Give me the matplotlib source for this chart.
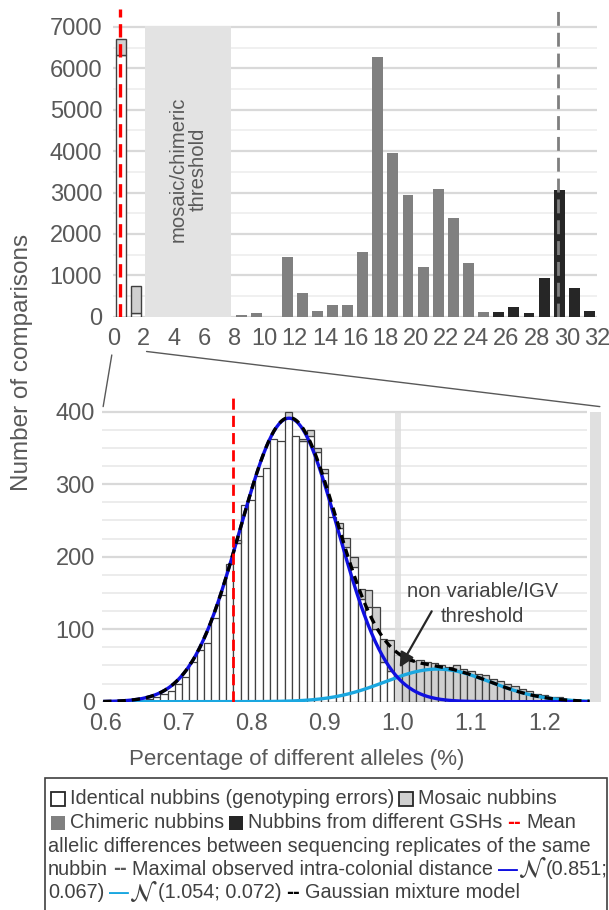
import numpy as np
import matplotlib
matplotlib.use('Agg')
import matplotlib.pyplot as plt
from matplotlib.patches import Rectangle, ConnectionPatch, FancyArrowPatch

plt.rcParams['font.family'] = ['Liberation Sans', 'DejaVu Sans']
plt.rcParams['mathtext.fontset'] = 'stix'

# ---------------- data: top histogram (1% bins) ----------------
top_bins = list(range(32))
top_identical = [6310, 80] + [0] * 30
top_mosaic = [400, 660] + [0] * 30
top_chimeric = [0, 0, 0, 0, 0, 0, 0, 0, 40, 96, 0, 1447, 563, 145, 273, 273,
                1560, 6270, 3947, 2950, 1206, 3095, 2379, 1302, 113, 0, 0, 0, 0, 0, 0, 0]
top_gsh = [0] * 25 + [113, 241, 96, 940, 3063, 683, 145]
top_xticks = list(range(0, 33, 2))
top_yticks = list(range(0, 7001, 1000))

# ---------------- data: bottom histogram (0.01% bins) ----------------
bot_centers = [round(0.60 + 0.01 * k, 2) for k in range(66)]
bot_identical = [0, 0, 0, 0, 1, 2, 4, 7, 11, 15, 25, 34, 55, 71, 81, 115, 147, 190,
                 219, 271, 278, 311, 322, 363, 359, 391, 367, 360, 367, 344, 315, 255,
                 240, 214, 186, 142, 130, 100, 55, 42] + [0] * 26
bot_mosaic = [0] * 18 + [4, 0, 0, 0, 0, 0, 0, 8, 0, 3, 8, 6, 6, 0, 7, 12, 13, 14, 24,
                         31, 32, 43] + \
             [64, 62, 56, 58, 55, 53, 50, 48, 50, 45, 42, 38, 37, 31, 28, 24, 21, 18,
              15, 11, 9, 7, 6, 4, 3, 2]
bot_xticks = [0.6, 0.7, 0.8, 0.9, 1.0, 1.1, 1.2]
bot_yticks = [0, 100, 200, 300, 400]

g1_mu, g1_sd, g1_peak = 0.851, 0.067, 391
g2_mu, g2_sd, g2_peak = 1.054, 0.072, 45

mean_rep_bottom = 0.774
mean_rep_top = 0.46
max_intra_top = 29.4
igv_threshold = 1.0
mosaic_chimeric = (2.1, 7.8)

TXT = '#595959'
DARK = '#404040'

fig = plt.figure(figsize=(6.09, 9.10), dpi=100)
W, H = 609.0, 910.0

def ax_rect(l, r, t, b):
    return [l / W, 1 - b / H, (r - l) / W, (b - t) / H]

def nz_bar(ax, x, h, bottom=None, **kw):
    x = np.asarray(x, float)
    h = np.asarray(h, float)
    b = np.zeros_like(h) if bottom is None else np.asarray(bottom, float)
    m = h > 0
    ax.bar(x[m], h[m], bottom=b[m], **kw)

# ---------------- top axes ----------------
ax1 = fig.add_axes(ax_rect(113.3, 597.0, 9.1, 316.7))
ax1.set_xlim(0, 32)
ax1.set_ylim(0, 7430)
for s in ax1.spines.values():
    s.set_visible(False)
ax1.hlines(top_yticks, 0, 32, color='#d9d9d9', lw=1.6, zorder=0)
ax1.hlines([v + 500 for v in top_yticks[:-1]], 0, 32, color='#f0f0f0', lw=1.4, zorder=0)
ax1.add_patch(Rectangle((mosaic_chimeric[0], -60), mosaic_chimeric[1] - mosaic_chimeric[0], 7090,
                        facecolor='#e3e3e3', edgecolor='none', zorder=0.5))
x_top = np.array(top_bins) + 0.5
bw = 0.68
nz_bar(ax1, x_top, top_identical, width=bw, color='white', edgecolor=DARK, lw=1, zorder=2)
nz_bar(ax1, x_top, top_mosaic, bottom=top_identical, width=bw, color='#d0d0d0', edgecolor=DARK, lw=1, zorder=2)
nz_bar(ax1, x_top, top_chimeric, width=0.72, color='#808080', edgecolor='none', zorder=2)
nz_bar(ax1, x_top, top_gsh, width=0.72, color='#262626', edgecolor='none', zorder=2)
ax1.axvline(mean_rep_top, color='#ff0000', lw=2.4, dashes=(4, 2), zorder=5)
ax1.axvline(max_intra_top, color='#7f7f7f', lw=2.0, dashes=(5, 2.5), zorder=5)
ax1.set_xticks(top_xticks)
ax1.set_xticklabels([str(v) for v in top_xticks])
ax1.set_yticks(top_yticks)
ax1.tick_params(axis='both', length=0, labelsize=17, colors=TXT)
ax1.tick_params(axis='x', pad=8)
ax1.tick_params(axis='y', pad=8)
ax1.text(4.97, 3567, 'mosaic/chimeric\nthreshold', rotation=90, ha='center', va='center',
         fontsize=14.6, color=TXT, linespacing=1.05, zorder=3)

# ---------------- bottom axes ----------------
ax2 = fig.add_axes(ax_rect(101.7, 601.3, 395.0, 701.7))
ax2.set_xlim(0.595, 1.278)
ax2.set_ylim(0, 423)
for s in ax2.spines.values():
    s.set_visible(False)
grid_end = 1.2586
ax2.hlines(bot_yticks, 0.595, grid_end, color='#d9d9d9', lw=1.6, zorder=0)
minor = [v for v in range(25, 400, 25) if v % 100 != 0]
ax2.hlines(minor, 0.595, grid_end, color='#ececec', lw=1.4, zorder=0)
nz_bar(ax2, bot_centers, bot_identical, width=0.01, color='white', edgecolor=DARK, lw=0.9, zorder=2)
nz_bar(ax2, bot_centers, bot_mosaic, bottom=bot_identical, width=0.01, color='#d0d0d0',
       edgecolor=DARK, lw=0.9, zorder=2)
ax2.add_patch(Rectangle((igv_threshold - 0.0045, 0), 0.009, 400, facecolor='#dcdcdc',
                        edgecolor='none', alpha=0.8, zorder=3))
ax2.add_patch(Rectangle((1.262, 0), 0.016, 400, facecolor='#e0e0e0', edgecolor='none', zorder=3))

xs = np.linspace(0.597, 1.262, 400)
c1 = g1_peak * np.exp(-0.5 * ((xs - g1_mu) / g1_sd) ** 2)
c2 = g2_peak * np.exp(-0.5 * ((xs - g2_mu) / g2_sd) ** 2)
ax2.plot(xs, c2, color='#1aa7e0', lw=2.4, zorder=4, solid_capstyle='butt')
ax2.plot(xs, c1, color='#1010e0', lw=2.4, zorder=4, solid_capstyle='butt')
ax2.plot(xs, c1 + c2, color='black', lw=2.4, dashes=(2.5, 1.8), zorder=4.5)
ax2.axvline(mean_rep_bottom, ymax=1.0, color='#ff0000', lw=2.0, dashes=(4, 2.2), zorder=5)

ax2.set_xticks(bot_xticks)
ax2.set_xticklabels(['%.1f' % v for v in bot_xticks])
ax2.set_yticks(bot_yticks)
ax2.tick_params(axis='both', length=0, labelsize=17, colors=TXT)
ax2.tick_params(axis='x', pad=8)
ax2.tick_params(axis='y', pad=5)

ax2.text(1.116, 151.7, 'non variable/IGV', ha='center', va='center', fontsize=14.6, color=DARK, zorder=6)
ax2.text(1.116, 117, 'threshold', ha='center', va='center', fontsize=14.6, color=DARK, zorder=6)
ax2.add_patch(FancyArrowPatch((1.048, 128), (1.0005, 44), arrowstyle='-|>', mutation_scale=22,
                              color='#262626', lw=1.6, zorder=6))

# zoom connector lines
for (xa, ya), (xb, yb) in [((-0.1, -925), (0.597, 407)), ((2.2, -840), (1.276, 407))]:
    cp = ConnectionPatch(xyA=(xa, ya), coordsA=ax1.transData, xyB=(xb, yb), coordsB=ax2.transData,
                         color='#595959', lw=1.0)
    fig.add_artist(cp)

# axis titles
fig.text(22 / W, 1 - 362 / H, 'Number of comparisons', rotation=90, ha='center', va='center',
         fontsize=17.5, color=TXT)
fig.text(297 / W, 1 - 760 / H, 'Percentage of different alleles (%)', ha='center', va='center',
         fontsize=16, color=TXT)

# ---------------- legend box ----------------
fig.add_artist(Rectangle((45 / W, 1 - 915 / H), 562 / W, 137 / H, transform=fig.transFigure,
                         facecolor='none', edgecolor=DARK, lw=1.2))
renderer = fig.canvas.get_renderer()
LFS = 14.3
SP = 5.0

def legend_line(items, y_px, x_px):
    x = x_px
    for it in items:
        kind = it[0]
        if kind == 'box':
            fc, ec = it[1], it[2]
            sz = 14
            fig.add_artist(Rectangle((x / W, 1 - (y_px + sz / 2) / H), sz / W, sz / H,
                                     transform=fig.transFigure, facecolor=fc,
                                     edgecolor=ec, lw=1.3 if ec != 'none' else 0))
            x += sz + SP
        else:
            s, col = it[1], it[2]
            kw = dict(fontsize=LFS, color=col)
            if kind == 'dash':
                kw['fontweight'] = 'bold'
                kw['family'] = ['DejaVu Sans']
                kw['fontsize'] = 12
            if kind == 'bold':
                kw['fontweight'] = 'bold'
            if kind == 'math':
                kw['fontsize'] = 18
            t = fig.text(x / W, 1 - y_px / H, s, ha='left', va='center', **kw)
            w = t.get_window_extent(renderer).width
            x += w + (SP if len(it) < 4 else it[3])

y0 = 799
dy = 23.5
legend_line([('box', 'white', '#262626'), ('text', 'Identical nubbins (genotyping errors)', DARK),
             ('box', '#d0d0d0', '#262626'), ('text', 'Mosaic nubbins', DARK)], y0, 51)
legend_line([('box', '#808080', 'none'), ('text', 'Chimeric nubbins', DARK),
             ('box', '#262626', 'none'), ('text', 'Nubbins from different GSHs', DARK),
             ('dash', '--', '#ff0000'), ('text', 'Mean', DARK)], y0 + dy, 51)
legend_line([('text', 'allelic differences between sequencing replicates of the same', DARK)],
            y0 + 2 * dy, 48)
legend_line([('text', 'nubbin', DARK), ('dash', '--', '#595959'),
             ('text', 'Maximal observed intra-colonial distance', DARK),
             ('bold', '\u2014', '#1010e0', 0), ('math', r'$\mathcal{N}$', DARK, 0),
             ('text', '(0.851;', DARK)], y0 + 3 * dy, 48)
legend_line([('text', '0.067)', DARK), ('bold', '\u2014', '#1aa7e0', 0),
             ('math', r'$\mathcal{N}$', DARK, 0), ('text', '(1.054; 0.072)', DARK),
             ('dash', '--', 'black'), ('text', 'Gaussian mixture model', DARK)], y0 + 4 * dy, 48)

fig.savefig('out.png', dpi=100)
